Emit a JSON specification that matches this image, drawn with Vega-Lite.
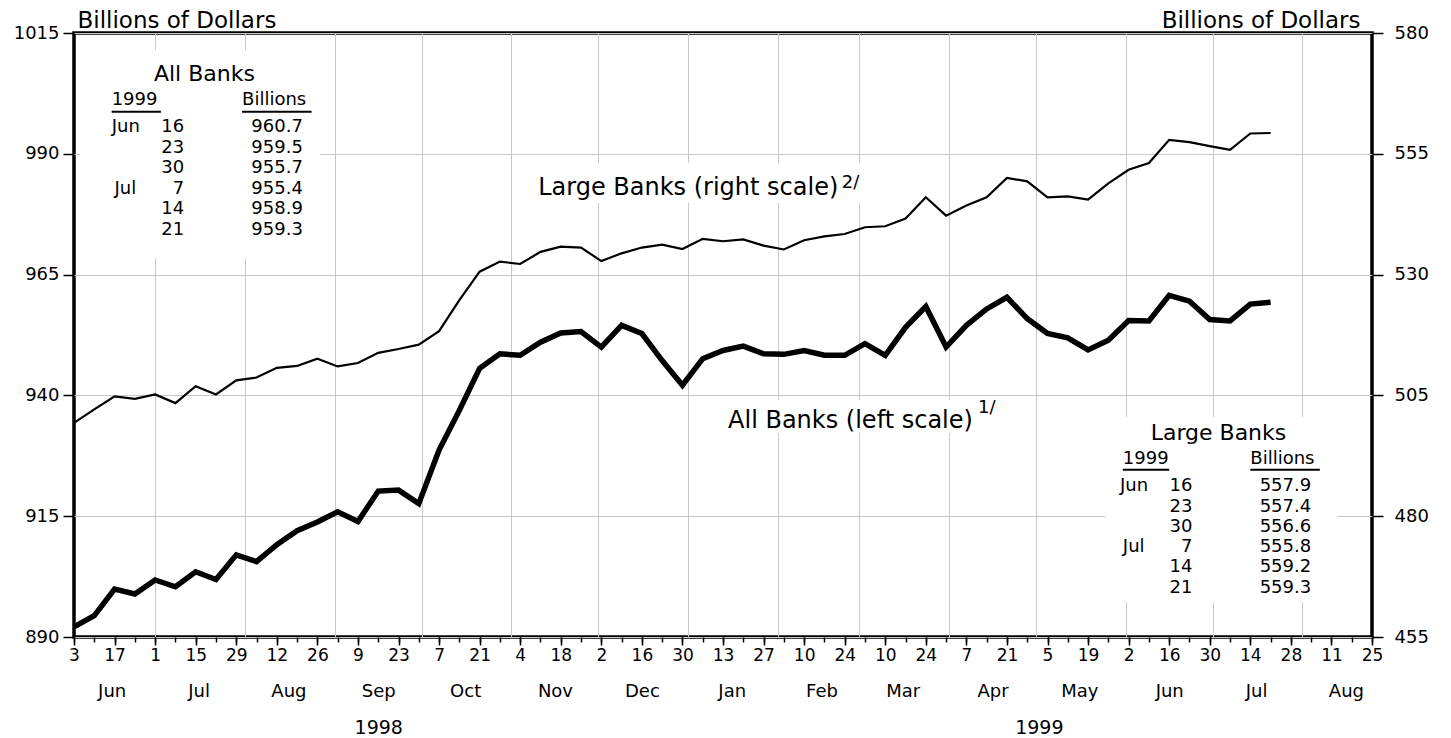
{
  "$schema": "https://vega.github.io/schema/vega-lite/v6.json",
  "width": 1298,
  "height": 604,
  "autosize": {"type": "none"},
  "padding": {"left": 74, "top": 33, "right": 79, "bottom": 101},
  "background": "white",
  "config": {
    "view": {"stroke": "#000", "strokeWidth": 3.5},
    "font": "DejaVu Sans",
    "text": {"font": "DejaVu Sans", "color": "#000"},
    "axis": {
      "labelFont": "DejaVu Sans", "titleFont": "DejaVu Sans", "labelColor": "#000", "tickColor": "#000",
      "gridColor": "#c8c8c8", "gridWidth": 1, "labelFlush": false, "labelOverlap": false, "labelBound": false,
      "domain": false, "titleFontWeight": "normal", "titleColor": "#000"
    }
  },
  "datasets": {
    "series": [
      {"date": "1998-06-03", "all": 892.1, "large": 499.3},
      {"date": "1998-06-10", "all": 894.4, "large": 502.1},
      {"date": "1998-06-17", "all": 899.9, "large": 504.8},
      {"date": "1998-06-24", "all": 898.9, "large": 504.3},
      {"date": "1998-07-01", "all": 901.8, "large": 505.2},
      {"date": "1998-07-08", "all": 900.4, "large": 503.4},
      {"date": "1998-07-15", "all": 903.5, "large": 506.9},
      {"date": "1998-07-22", "all": 901.9, "large": 505.2},
      {"date": "1998-07-29", "all": 907.0, "large": 508.1},
      {"date": "1998-08-05", "all": 905.6, "large": 508.7},
      {"date": "1998-08-12", "all": 909.1, "large": 510.7},
      {"date": "1998-08-19", "all": 912.0, "large": 511.1},
      {"date": "1998-08-26", "all": 913.8, "large": 512.6},
      {"date": "1998-09-02", "all": 915.9, "large": 511.0},
      {"date": "1998-09-09", "all": 913.9, "large": 511.7},
      {"date": "1998-09-16", "all": 920.2, "large": 513.8},
      {"date": "1998-09-23", "all": 920.4, "large": 514.6},
      {"date": "1998-09-30", "all": 917.6, "large": 515.5},
      {"date": "1998-10-07", "all": 928.7, "large": 518.3},
      {"date": "1998-10-14", "all": 936.9, "large": 524.7},
      {"date": "1998-10-21", "all": 945.6, "large": 530.6},
      {"date": "1998-10-28", "all": 948.6, "large": 532.7},
      {"date": "1998-11-04", "all": 948.3, "large": 532.2},
      {"date": "1998-11-11", "all": 951.0, "large": 534.7},
      {"date": "1998-11-18", "all": 952.9, "large": 535.8},
      {"date": "1998-11-25", "all": 953.2, "large": 535.6},
      {"date": "1998-12-02", "all": 950.0, "large": 532.8},
      {"date": "1998-12-09", "all": 954.5, "large": 534.4},
      {"date": "1998-12-16", "all": 952.8, "large": 535.6},
      {"date": "1998-12-23", "all": 947.2, "large": 536.2},
      {"date": "1998-12-30", "all": 942.1, "large": 535.3},
      {"date": "1999-01-06", "all": 947.6, "large": 537.4},
      {"date": "1999-01-13", "all": 949.3, "large": 536.9},
      {"date": "1999-01-20", "all": 950.2, "large": 537.3},
      {"date": "1999-01-27", "all": 948.6, "large": 536.0},
      {"date": "1999-02-03", "all": 948.5, "large": 535.2},
      {"date": "1999-02-10", "all": 949.3, "large": 537.1},
      {"date": "1999-02-17", "all": 948.3, "large": 537.9},
      {"date": "1999-02-24", "all": 948.3, "large": 538.4},
      {"date": "1999-03-03", "all": 950.7, "large": 539.8},
      {"date": "1999-03-10", "all": 948.3, "large": 540.0},
      {"date": "1999-03-17", "all": 954.1, "large": 541.6},
      {"date": "1999-03-24", "all": 958.4, "large": 546.0},
      {"date": "1999-03-31", "all": 950.0, "large": 542.2},
      {"date": "1999-04-07", "all": 954.5, "large": 544.3},
      {"date": "1999-04-14", "all": 957.9, "large": 546.0},
      {"date": "1999-04-21", "all": 960.3, "large": 550.0},
      {"date": "1999-04-28", "all": 955.9, "large": 549.3},
      {"date": "1999-05-05", "all": 952.8, "large": 546.0},
      {"date": "1999-05-12", "all": 951.9, "large": 546.2},
      {"date": "1999-05-19", "all": 949.4, "large": 545.5},
      {"date": "1999-05-26", "all": 951.4, "large": 548.9},
      {"date": "1999-06-02", "all": 955.5, "large": 551.7},
      {"date": "1999-06-09", "all": 955.4, "large": 553.1},
      {"date": "1999-06-16", "all": 960.7, "large": 557.9},
      {"date": "1999-06-23", "all": 959.5, "large": 557.4},
      {"date": "1999-06-30", "all": 955.7, "large": 556.6},
      {"date": "1999-07-07", "all": 955.4, "large": 555.8},
      {"date": "1999-07-14", "all": 958.9, "large": 559.2},
      {"date": "1999-07-21", "all": 959.3, "large": 559.3}
    ],
    "boxes": [
      {"x1": "1998-06-05", "x2": "1998-08-27", "y1": 1011.5, "y2": 968.4},
      {"x1": "1999-05-25", "x2": "1999-08-13", "y1": 935.5, "y2": 897.2},
      {"x1": "1998-11-02", "x2": "1999-03-11", "y1": 988.1, "y2": 979.8},
      {"x1": "1999-01-07", "x2": "1999-04-27", "y1": 939.0, "y2": 932.2}
    ],
    "underlines": [
      {"x1": "1998-06-16", "x2": "1998-07-03", "y": 998.7},
      {"x1": "1998-07-31", "x2": "1998-08-24", "y": 998.7},
      {"x1": "1999-05-31", "x2": "1999-06-16", "y": 924.6},
      {"x1": "1999-07-14", "x2": "1999-08-07", "y": 924.6}
    ],
    "tabL": [
      {"d": "1998-06-16", "v": 1001.1, "t": "1999"},
      {"d": "1998-07-31", "v": 1001.1, "t": "Billions"},
      {"d": "1998-06-16", "v": 995.5, "t": "Jun"},
      {"d": "1998-06-17", "v": 982.7, "t": "Jul"},
      {"d": "1999-05-31", "v": 926.8, "t": "1999"},
      {"d": "1999-07-14", "v": 926.8, "t": "Billions"},
      {"d": "1999-05-30", "v": 921.25, "t": "Jun"},
      {"d": "1999-05-31", "v": 908.6, "t": "Jul"}
    ],
    "tabR": [
      {"d": "1998-07-11", "v": 995.5, "t": "16"},
      {"d": "1998-07-11", "v": 991.2, "t": "23"},
      {"d": "1998-07-11", "v": 987.0, "t": "30"},
      {"d": "1998-07-11", "v": 982.7, "t": "7"},
      {"d": "1998-07-11", "v": 978.5, "t": "14"},
      {"d": "1998-07-11", "v": 974.2, "t": "21"},
      {"d": "1998-08-21", "v": 995.5, "t": "960.7"},
      {"d": "1998-08-21", "v": 991.2, "t": "959.5"},
      {"d": "1998-08-21", "v": 987.0, "t": "955.7"},
      {"d": "1998-08-21", "v": 982.7, "t": "955.4"},
      {"d": "1998-08-21", "v": 978.5, "t": "958.9"},
      {"d": "1998-08-21", "v": 974.2, "t": "959.3"},
      {"d": "1999-06-24", "v": 921.25, "t": "16"},
      {"d": "1999-06-24", "v": 917.0, "t": "23"},
      {"d": "1999-06-24", "v": 912.8, "t": "30"},
      {"d": "1999-06-24", "v": 908.6, "t": "7"},
      {"d": "1999-06-24", "v": 904.4, "t": "14"},
      {"d": "1999-06-24", "v": 900.1, "t": "21"},
      {"d": "1999-08-04", "v": 921.25, "t": "557.9"},
      {"d": "1999-08-04", "v": 917.0, "t": "557.4"},
      {"d": "1999-08-04", "v": 912.8, "t": "556.6"},
      {"d": "1999-08-04", "v": 908.6, "t": "555.8"},
      {"d": "1999-08-04", "v": 904.4, "t": "559.2"},
      {"d": "1999-08-04", "v": 900.1, "t": "559.3"}
    ],
    "titles": [
      {"d": "1998-07-18", "v": 1006.6, "t": "All Banks"},
      {"d": "1999-07-03", "v": 932.2, "t": "Large Banks"}
    ],
    "labels": [
      {"d": "1999-01-01", "v": 981.5, "t": "Large Banks (right scale)"},
      {"d": "1999-02-26", "v": 933.2, "t": "All Banks (left scale)"}
    ],
    "sups": [
      {"d": "1999-02-23", "v": 982.9, "t": "2/"},
      {"d": "1999-04-11", "v": 936.4, "t": "1/"}
    ]
  },
  "layer": [
    {
      "data": {"name": "boxes"},
      "mark": {"type": "rect", "fill": "white", "strokeWidth": 0},
      "encoding": {
        "x": {"field": "x1", "type": "temporal",
          "scale": {"type": "utc", "nice": false, "domain": [{"year": 1998, "month": 6, "date": 3, "utc": true}, {"year": 1999, "month": 8, "date": 25, "utc": true}]},
          "axis": {"orient": "bottom", "grid": true, "ticks": false, "tickSize": 0, "labels": false, "domain": false, "title": null,
            "values": [
              {"year": 1998, "month": 7, "date": 1, "utc": true}, {"year": 1998, "month": 8, "date": 1, "utc": true},
              {"year": 1998, "month": 9, "date": 1, "utc": true}, {"year": 1998, "month": 10, "date": 1, "utc": true},
              {"year": 1998, "month": 11, "date": 1, "utc": true}, {"year": 1998, "month": 12, "date": 1, "utc": true},
              {"year": 1999, "month": 1, "date": 1, "utc": true}, {"year": 1999, "month": 2, "date": 1, "utc": true},
              {"year": 1999, "month": 3, "date": 1, "utc": true}, {"year": 1999, "month": 4, "date": 1, "utc": true},
              {"year": 1999, "month": 5, "date": 1, "utc": true}, {"year": 1999, "month": 6, "date": 1, "utc": true},
              {"year": 1999, "month": 7, "date": 1, "utc": true}, {"year": 1999, "month": 8, "date": 1, "utc": true}
            ]}},
        "x2": {"field": "x2"},
        "y": {"field": "y1", "type": "quantitative", "scale": {"domain": [890, 1015], "nice": false, "zero": false}, "axis": null},
        "y2": {"field": "y2"}
      }
    },
    {
      "data": {"name": "series"},
      "mark": {"type": "line", "color": "#000", "strokeWidth": 5.5},
      "encoding": {
        "x": {"field": "date", "type": "temporal",
          "scale": {"type": "utc", "nice": false, "domain": [{"year": 1998, "month": 6, "date": 3, "utc": true}, {"year": 1999, "month": 8, "date": 25, "utc": true}]},
          "axis": {"orient": "bottom", "grid": false, "ticks": true, "tickSize": 5, "tickWidth": 1.5, "labels": false, "domain": false, "title": null,
            "values": [
              {"year": 1998, "month": 6, "date": 3, "utc": true}, {"year": 1998, "month": 6, "date": 10, "utc": true}, {"year": 1998, "month": 6, "date": 17, "utc": true}, {"year": 1998, "month": 6, "date": 24, "utc": true},
              {"year": 1998, "month": 7, "date": 1, "utc": true}, {"year": 1998, "month": 7, "date": 8, "utc": true}, {"year": 1998, "month": 7, "date": 15, "utc": true}, {"year": 1998, "month": 7, "date": 22, "utc": true}, {"year": 1998, "month": 7, "date": 29, "utc": true},
              {"year": 1998, "month": 8, "date": 5, "utc": true}, {"year": 1998, "month": 8, "date": 12, "utc": true}, {"year": 1998, "month": 8, "date": 19, "utc": true}, {"year": 1998, "month": 8, "date": 26, "utc": true},
              {"year": 1998, "month": 9, "date": 2, "utc": true}, {"year": 1998, "month": 9, "date": 9, "utc": true}, {"year": 1998, "month": 9, "date": 16, "utc": true}, {"year": 1998, "month": 9, "date": 23, "utc": true}, {"year": 1998, "month": 9, "date": 30, "utc": true},
              {"year": 1998, "month": 10, "date": 7, "utc": true}, {"year": 1998, "month": 10, "date": 14, "utc": true}, {"year": 1998, "month": 10, "date": 21, "utc": true}, {"year": 1998, "month": 10, "date": 28, "utc": true},
              {"year": 1998, "month": 11, "date": 4, "utc": true}, {"year": 1998, "month": 11, "date": 11, "utc": true}, {"year": 1998, "month": 11, "date": 18, "utc": true}, {"year": 1998, "month": 11, "date": 25, "utc": true},
              {"year": 1998, "month": 12, "date": 2, "utc": true}, {"year": 1998, "month": 12, "date": 9, "utc": true}, {"year": 1998, "month": 12, "date": 16, "utc": true}, {"year": 1998, "month": 12, "date": 23, "utc": true}, {"year": 1998, "month": 12, "date": 30, "utc": true},
              {"year": 1999, "month": 1, "date": 6, "utc": true}, {"year": 1999, "month": 1, "date": 13, "utc": true}, {"year": 1999, "month": 1, "date": 20, "utc": true}, {"year": 1999, "month": 1, "date": 27, "utc": true},
              {"year": 1999, "month": 2, "date": 3, "utc": true}, {"year": 1999, "month": 2, "date": 10, "utc": true}, {"year": 1999, "month": 2, "date": 17, "utc": true}, {"year": 1999, "month": 2, "date": 24, "utc": true},
              {"year": 1999, "month": 3, "date": 3, "utc": true}, {"year": 1999, "month": 3, "date": 10, "utc": true}, {"year": 1999, "month": 3, "date": 17, "utc": true}, {"year": 1999, "month": 3, "date": 24, "utc": true}, {"year": 1999, "month": 3, "date": 31, "utc": true},
              {"year": 1999, "month": 4, "date": 7, "utc": true}, {"year": 1999, "month": 4, "date": 14, "utc": true}, {"year": 1999, "month": 4, "date": 21, "utc": true}, {"year": 1999, "month": 4, "date": 28, "utc": true},
              {"year": 1999, "month": 5, "date": 5, "utc": true}, {"year": 1999, "month": 5, "date": 12, "utc": true}, {"year": 1999, "month": 5, "date": 19, "utc": true}, {"year": 1999, "month": 5, "date": 26, "utc": true},
              {"year": 1999, "month": 6, "date": 2, "utc": true}, {"year": 1999, "month": 6, "date": 9, "utc": true}, {"year": 1999, "month": 6, "date": 16, "utc": true}, {"year": 1999, "month": 6, "date": 23, "utc": true}, {"year": 1999, "month": 6, "date": 30, "utc": true},
              {"year": 1999, "month": 7, "date": 7, "utc": true}, {"year": 1999, "month": 7, "date": 14, "utc": true}, {"year": 1999, "month": 7, "date": 21, "utc": true}, {"year": 1999, "month": 7, "date": 28, "utc": true},
              {"year": 1999, "month": 8, "date": 4, "utc": true}, {"year": 1999, "month": 8, "date": 11, "utc": true}, {"year": 1999, "month": 8, "date": 18, "utc": true}, {"year": 1999, "month": 8, "date": 25, "utc": true}
            ]}},
        "y": {"field": "all", "type": "quantitative", "scale": {"domain": [890, 1015], "nice": false, "zero": false},
          "axis": {"orient": "left", "values": [890, 915, 940, 965, 990, 1015], "format": "d", "grid": true, "tickSize": 11, "tickWidth": 1.5,
            "labelPadding": 4, "labelFontSize": 18, "domain": false,
            "title": "Billions of Dollars", "titleAngle": 0, "titleAlign": "left", "titleBaseline": "alphabetic",
            "titleX": 3, "titleY": -6, "titleFontSize": 23}}
      }
    },
    {
      "data": {"name": "series"},
      "mark": {"type": "line", "color": "#000", "strokeWidth": 2.2},
      "encoding": {
        "x": {"field": "date", "type": "temporal",
          "scale": {"type": "utc", "nice": false, "domain": [{"year": 1998, "month": 6, "date": 3, "utc": true}, {"year": 1999, "month": 8, "date": 25, "utc": true}]},
          "axis": {"orient": "bottom", "grid": false, "ticks": true, "tickSize": 8, "tickWidth": 1.5, "labels": true, "labelPadding": 2,
            "labelFontSize": 17, "format": "%-d", "domain": false, "title": null,
            "values": [
              {"year": 1998, "month": 6, "date": 3, "utc": true}, {"year": 1998, "month": 6, "date": 17, "utc": true},
              {"year": 1998, "month": 7, "date": 1, "utc": true}, {"year": 1998, "month": 7, "date": 15, "utc": true}, {"year": 1998, "month": 7, "date": 29, "utc": true},
              {"year": 1998, "month": 8, "date": 12, "utc": true}, {"year": 1998, "month": 8, "date": 26, "utc": true},
              {"year": 1998, "month": 9, "date": 9, "utc": true}, {"year": 1998, "month": 9, "date": 23, "utc": true},
              {"year": 1998, "month": 10, "date": 7, "utc": true}, {"year": 1998, "month": 10, "date": 21, "utc": true},
              {"year": 1998, "month": 11, "date": 4, "utc": true}, {"year": 1998, "month": 11, "date": 18, "utc": true},
              {"year": 1998, "month": 12, "date": 2, "utc": true}, {"year": 1998, "month": 12, "date": 16, "utc": true}, {"year": 1998, "month": 12, "date": 30, "utc": true},
              {"year": 1999, "month": 1, "date": 13, "utc": true}, {"year": 1999, "month": 1, "date": 27, "utc": true},
              {"year": 1999, "month": 2, "date": 10, "utc": true}, {"year": 1999, "month": 2, "date": 24, "utc": true},
              {"year": 1999, "month": 3, "date": 10, "utc": true}, {"year": 1999, "month": 3, "date": 24, "utc": true},
              {"year": 1999, "month": 4, "date": 7, "utc": true}, {"year": 1999, "month": 4, "date": 21, "utc": true},
              {"year": 1999, "month": 5, "date": 5, "utc": true}, {"year": 1999, "month": 5, "date": 19, "utc": true},
              {"year": 1999, "month": 6, "date": 2, "utc": true}, {"year": 1999, "month": 6, "date": 16, "utc": true}, {"year": 1999, "month": 6, "date": 30, "utc": true},
              {"year": 1999, "month": 7, "date": 14, "utc": true}, {"year": 1999, "month": 7, "date": 28, "utc": true},
              {"year": 1999, "month": 8, "date": 11, "utc": true}, {"year": 1999, "month": 8, "date": 25, "utc": true}
            ]}},
        "y": {"field": "large", "type": "quantitative", "scale": {"domain": [455, 580], "nice": false, "zero": false},
          "axis": {"orient": "right", "values": [455, 480, 505, 530, 555, 580], "format": "d", "grid": false, "tickSize": 11, "tickWidth": 1.5,
            "labelPadding": 11, "labelFontSize": 18, "domain": false,
            "title": "Billions of Dollars", "titleAngle": 0, "titleAlign": "right", "titleBaseline": "alphabetic",
            "titleX": -12, "titleY": -6, "titleFontSize": 23}}
      }
    },
    {
      "data": {"name": "underlines"},
      "mark": {"type": "rule", "color": "#000", "strokeWidth": 2},
      "encoding": {
        "x": {"field": "x1", "type": "temporal",
          "scale": {"type": "utc", "nice": false, "domain": [{"year": 1998, "month": 6, "date": 3, "utc": true}, {"year": 1999, "month": 8, "date": 25, "utc": true}]},
          "axis": null},
        "x2": {"field": "x2"},
        "y": {"field": "y", "type": "quantitative", "scale": {"domain": [890, 1015], "nice": false, "zero": false}, "axis": null}
      }
    },
    {
      "data": {"name": "tabL"},
      "mark": {"type": "text", "align": "left", "baseline": "middle", "fontSize": 18},
      "encoding": {
        "x": {"field": "d", "type": "temporal",
          "scale": {"type": "utc", "nice": false, "domain": [{"year": 1998, "month": 6, "date": 3, "utc": true}, {"year": 1999, "month": 8, "date": 25, "utc": true}]},
          "axis": {"orient": "bottom", "grid": false, "ticks": false, "tickSize": 0, "labels": true, "labelPadding": 45,
            "labelFontSize": 18, "format": "%b", "domain": false, "title": null,
            "values": [
              {"year": 1998, "month": 6, "date": 16, "utc": true}, {"year": 1998, "month": 7, "date": 16, "utc": true},
              {"year": 1998, "month": 8, "date": 16, "utc": true}, {"year": 1998, "month": 9, "date": 16, "utc": true},
              {"year": 1998, "month": 10, "date": 16, "utc": true}, {"year": 1998, "month": 11, "date": 16, "utc": true},
              {"year": 1998, "month": 12, "date": 16, "utc": true}, {"year": 1999, "month": 1, "date": 16, "utc": true},
              {"year": 1999, "month": 2, "date": 16, "utc": true}, {"year": 1999, "month": 3, "date": 16, "utc": true},
              {"year": 1999, "month": 4, "date": 16, "utc": true}, {"year": 1999, "month": 5, "date": 16, "utc": true},
              {"year": 1999, "month": 6, "date": 16, "utc": true}, {"year": 1999, "month": 7, "date": 16, "utc": true},
              {"year": 1999, "month": 8, "date": 16, "utc": true}
            ]}},
        "y": {"field": "v", "type": "quantitative", "scale": {"domain": [890, 1015], "nice": false, "zero": false}, "axis": null},
        "text": {"field": "t"}
      }
    },
    {
      "data": {"name": "tabR"},
      "mark": {"type": "text", "align": "right", "baseline": "middle", "fontSize": 18},
      "encoding": {
        "x": {"field": "d", "type": "temporal",
          "scale": {"type": "utc", "nice": false, "domain": [{"year": 1998, "month": 6, "date": 3, "utc": true}, {"year": 1999, "month": 8, "date": 25, "utc": true}]},
          "axis": {"orient": "bottom", "grid": false, "ticks": false, "tickSize": 0, "labels": true, "labelPadding": 81,
            "labelFontSize": 19, "format": "%Y", "domain": false, "title": null,
            "values": [
              {"year": 1998, "month": 9, "date": 16, "utc": true}, {"year": 1999, "month": 5, "date": 2, "utc": true}
            ]}},
        "y": {"field": "v", "type": "quantitative", "scale": {"domain": [890, 1015], "nice": false, "zero": false}, "axis": null},
        "text": {"field": "t"}
      }
    },
    {
      "data": {"name": "titles"},
      "mark": {"type": "text", "align": "center", "baseline": "middle", "fontSize": 22},
      "encoding": {
        "x": {"field": "d", "type": "temporal",
          "scale": {"type": "utc", "nice": false, "domain": [{"year": 1998, "month": 6, "date": 3, "utc": true}, {"year": 1999, "month": 8, "date": 25, "utc": true}]},
          "axis": null},
        "y": {"field": "v", "type": "quantitative", "scale": {"domain": [890, 1015], "nice": false, "zero": false}, "axis": null},
        "text": {"field": "t"}
      }
    },
    {
      "data": {"name": "labels"},
      "mark": {"type": "text", "align": "center", "baseline": "alphabetic", "fontSize": 24},
      "encoding": {
        "x": {"field": "d", "type": "temporal",
          "scale": {"type": "utc", "nice": false, "domain": [{"year": 1998, "month": 6, "date": 3, "utc": true}, {"year": 1999, "month": 8, "date": 25, "utc": true}]},
          "axis": null},
        "y": {"field": "v", "type": "quantitative", "scale": {"domain": [890, 1015], "nice": false, "zero": false}, "axis": null},
        "text": {"field": "t"}
      }
    },
    {
      "data": {"name": "sups"},
      "mark": {"type": "text", "align": "left", "baseline": "alphabetic", "fontSize": 18},
      "encoding": {
        "x": {"field": "d", "type": "temporal",
          "scale": {"type": "utc", "nice": false, "domain": [{"year": 1998, "month": 6, "date": 3, "utc": true}, {"year": 1999, "month": 8, "date": 25, "utc": true}]},
          "axis": null},
        "y": {"field": "v", "type": "quantitative", "scale": {"domain": [890, 1015], "nice": false, "zero": false}, "axis": null},
        "text": {"field": "t"}
      }
    }
  ],
  "resolve": {"scale": {"y": "independent"}, "axis": {"x": "independent", "y": "independent"}}
}
